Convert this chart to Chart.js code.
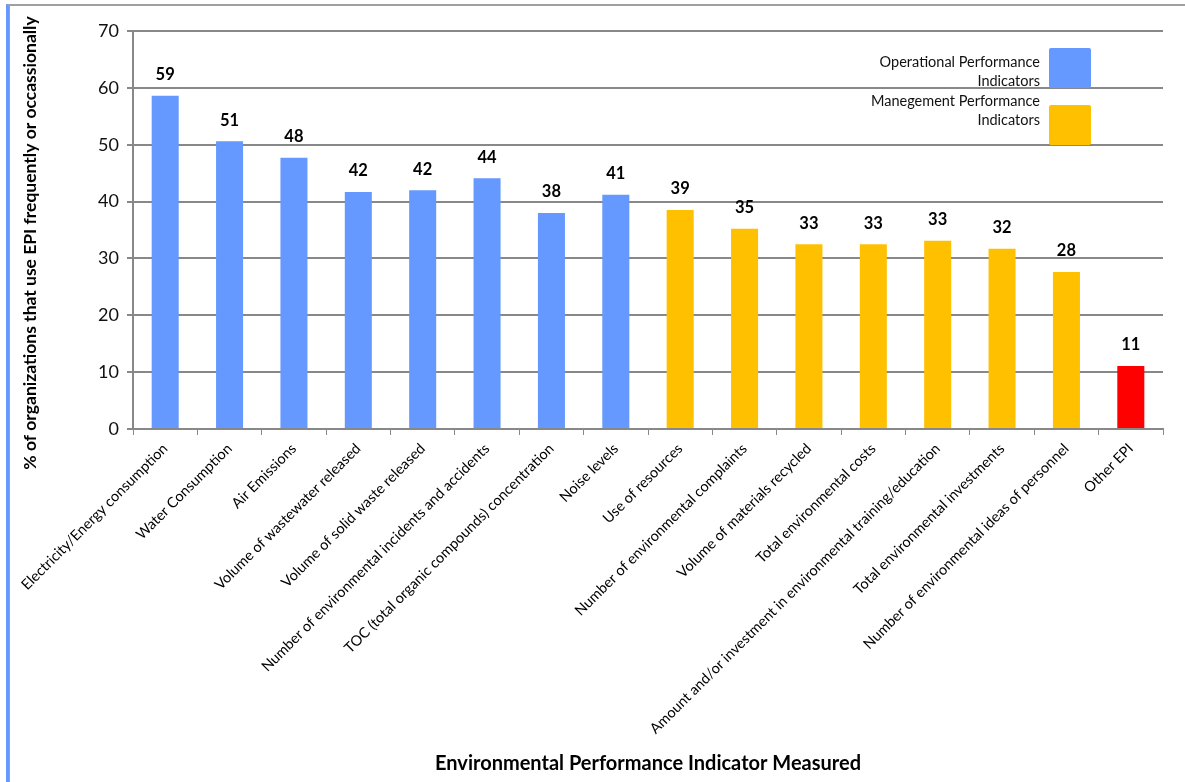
<!DOCTYPE html>
<html>
<head>
<meta charset="utf-8">
<script src="https://cdn.jsdelivr.net/npm/chart.js@4.4.1/dist/chart.umd.min.js"></script>
<style>
  html, body { margin: 0; padding: 0; background: #fff; }
  #wrap { position: relative; width: 1185px; height: 782px; }
  #frame {
    position: absolute; left: 6px; top: 4px; right: 0; bottom: 0;
    border-top: 2px solid #a0a0a0;
    border-left: 3px solid #6699ff;
    box-shadow: inset 1px 0 0 #a0a0a0;
  }
  canvas { position: absolute; left: 0; top: 0; }
</style>
</head>
<body>
<div id="wrap">
  <div id="frame"></div>
  <canvas id="myChart" width="1185" height="782"></canvas>
</div>
<script>
var indicadores = [
  'Electricity/Energy consumption',
  'Water Consumption',
  'Air Emissions',
  'Volume of wastewater released',
  'Volume of solid waste released',
  'Number of environmental incidents and accidents',
  'TOC (total organic compounds) concentration',
  'Noise levels',
  'Use of resources',
  'Number of environmental complaints',
  'Volume of materials recycled',
  'Total environmental costs',
  'Amount and/or investment in environmental training/education',
  'Total environmental investments',
  'Number of environmental ideas of personnel',
  'Other EPI'
];
var porcentajes = [58.6, 50.6, 47.7, 41.7, 42.0, 44.1, 38.0, 41.2, 38.5, 35.2, 32.5, 32.5, 33.1, 31.7, 27.6, 11.1];
var tipos = ['op', 'op', 'op', 'op', 'op', 'op', 'op', 'op',
             'mg', 'mg', 'mg', 'mg', 'mg', 'mg', 'mg', 'other'];
var yTicks = [0, 10, 20, 30, 40, 50, 60, 70];
var tituloY = '% of organizations that use EPI frequently or occassionally';
var tituloX = 'Environmental Performance Indicator Measured';
var leyenda = [
  { lines: ['Operational Performance', 'Indicators'], color: '#6699ff', dy: [14, 33] },
  { lines: ['Manegement Performance', 'Indicators'], color: '#ffc000', dy: [-4, 15] }
];
var colores = { op: '#6699ff', mg: '#ffc000', other: '#ff0000' };

var FUENTE = "Lato, 'Open Sans', sans-serif";
Chart.defaults.font.family = FUENTE;
Chart.defaults.color = '#000';

// value labels above each bar
var etiquetas = {
  id: 'etiquetas',
  afterDatasetsDraw: function(chart) {
    var ctx = chart.ctx;
    var meta = chart.getDatasetMeta(0);
    ctx.save();
    ctx.font = 'bold 16.5px ' + FUENTE;
    ctx.fillStyle = '#000';
    ctx.textAlign = 'center';
    ctx.textBaseline = 'middle';
    meta.data.forEach(function(bar, i) {
      ctx.fillText(Math.round(porcentajes[i]), bar.x, bar.y - 21);
    });
    ctx.restore();
  }
};

// vertical axis title, drawn by hand so it sits a bit lower than the axis centre
var tituloVertical = {
  id: 'tituloVertical',
  afterDraw: function(chart) {
    var ctx = chart.ctx;
    ctx.save();
    ctx.translate(30, 243);
    ctx.rotate(-Math.PI / 2);
    ctx.font = 'bold 17.5px ' + FUENTE;
    ctx.fillStyle = '#000';
    ctx.textAlign = 'center';
    ctx.textBaseline = 'middle';
    ctx.fillText(tituloY, 0, 0);
    ctx.restore();
  }
};

// text-then-box legend in the top right corner
var cajaLeyenda = {
  id: 'cajaLeyenda',
  afterDraw: function(chart) {
    var ctx = chart.ctx;
    var area = chart.chartArea;
    var boxX = area.right - 114;
    ctx.save();
    ctx.font = '14.5px ' + FUENTE;
    ctx.textAlign = 'right';
    ctx.textBaseline = 'middle';
    leyenda.forEach(function(item, i) {
      var top = area.top + 17 + i * 57;
      ctx.fillStyle = item.color;
      ctx.beginPath();
      ctx.roundRect(boxX, top, 42, 40, 2);
      ctx.fill();
      ctx.fillStyle = '#111';
      ctx.fillText(item.lines[0], boxX - 9, top + item.dy[0]);
      ctx.fillText(item.lines[1], boxX - 9, top + item.dy[1]);
    });
    ctx.restore();
  }
};

var ctx = document.getElementById('myChart').getContext('2d');
var myChart = new Chart(ctx, {
  type: 'bar',
  data: {
    labels: indicadores,
    datasets: [{
      data: porcentajes,
      backgroundColor: tipos.map(function(t) { return colores[t]; }),
      barPercentage: 0.42,
      categoryPercentage: 1.0
    }]
  },
  options: {
    responsive: false,
    animation: false,
    layout: { padding: { top: 31, right: 22, left: 20, bottom: 6 } },
    plugins: {
      legend: { display: false },
      tooltip: { enabled: false }
    },
    scales: {
      x: {
        afterFit: function(scale) { scale.height = 782 - 429 - 6; },
        grid: { drawOnChartArea: false, drawTicks: true, tickLength: 6, color: '#888', offset: true },
        border: { color: '#888', width: 2 },
        ticks: {
          maxRotation: 45, minRotation: 45, autoSkip: false,
          font: { size: 14.5 }, color: '#000', padding: 5
        },
        title: {
          display: true,
          text: tituloX,
          font: { size: 20, weight: 'bold' },
          padding: { top: 0, bottom: 0 }
        }
      },
      y: {
        min: 0, max: 70,
        afterFit: function(scale) { scale.width = 113; },
        afterBuildTicks: function(scale) {
          scale.ticks = yTicks.map(function(v) { return { value: v }; });
        },
        grid: { color: '#888', lineWidth: 2, tickLength: 6 },
        border: { color: '#888', width: 2 },
        ticks: { font: { size: 18 }, color: '#111', padding: 8 },
        title: { display: false }
      }
    }
  },
  plugins: [etiquetas, tituloVertical, cajaLeyenda]
});
</script>
</body>
</html>
